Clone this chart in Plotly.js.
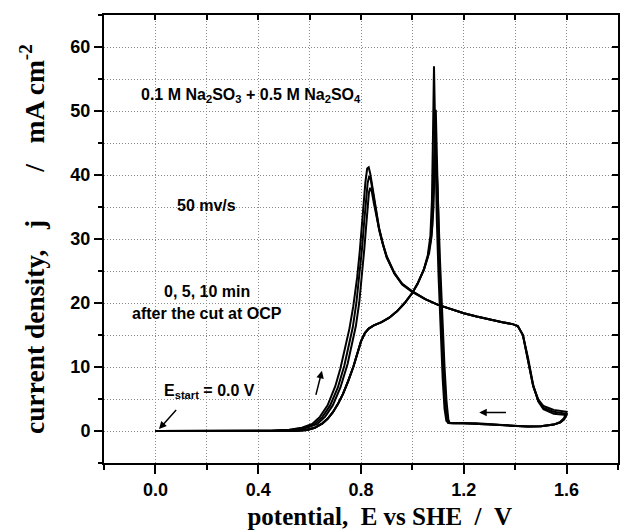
<!DOCTYPE html>
<html>
<head>
<meta charset="utf-8">
<script src="https://cdn.plot.ly/plotly-3.0.1.min.js"></script>
<style>html,body{margin:0;padding:0;background:#fff}#chart{width:620px;height:530px}</style>
</head>
<body>
<div id="chart"></div>
<script>
// ---- data (potential E vs SHE / V, current density / mA cm-2) ----
// cycle A (0 min): forward scan
const potA_fwd = [0.00,0.30,0.45,0.52,0.57,0.61,0.64,0.67,0.70,0.72,0.74,0.755,0.77,0.785,0.795,0.803,0.81,0.817,0.824,0.830,0.836,0.845,0.855,0.87,0.885,0.90,0.93,0.96,1.00,1.05,1.10,1.15,1.20,1.25,1.30,1.35,1.39,1.41,1.43,1.45,1.47,1.49,1.51,1.55,1.60];
const curA_fwd = [0,0,0.05,0.2,0.5,1.1,2.2,4.0,7.0,9.8,13.3,16.0,19.5,24,28,32,35.5,38.8,41.0,41.2,40.2,37.8,35,31.8,29.3,27.3,24.7,23.0,21.8,20.6,19.7,19.0,18.4,17.9,17.4,17.0,16.7,16.4,15.0,11.0,7.0,4.9,3.9,3.3,3.0];
// cycle A: reverse scan
const potA_rev = [1.60,1.59,1.575,1.55,1.50,1.45,1.40,1.35,1.30,1.25,1.20,1.16,1.14,1.132,1.125,1.118,1.11,1.102,1.095,1.089,1.084,1.080,1.076,1.07,1.06,1.045,1.02,1.00,0.97,0.94,0.91,0.88,0.85,0.83,0.815,0.80,0.785,0.77,0.75,0.73,0.71,0.69,0.67,0.65,0.62,0.59,0.55,0.45,0.20];
const curA_rev = [3.0,2.0,1.4,1.0,0.75,0.7,0.8,0.95,1.1,1.2,1.2,1.2,1.25,1.6,3.5,8,15,24,33,45,57,46,36,30.5,27.5,25.3,23.0,21.6,20.0,18.7,17.7,17.0,16.5,16.0,15.3,14.0,12.0,10.0,7.8,5.8,4.2,2.9,1.9,1.2,0.5,0.15,0.05,0,0];

// cycle B (5 min)
const potB_fwd = [0.00,0.30,0.45,0.53,0.58,0.62,0.65,0.68,0.71,0.735,0.755,0.768,0.782,0.795,0.804,0.812,0.819,0.826,0.832,0.838,0.846,0.856,0.87,0.885,0.90,0.93,0.96,1.00,1.05,1.10,1.15,1.20,1.25,1.30,1.35,1.39,1.41,1.43,1.45,1.47,1.49,1.51,1.55,1.60];
const curB_fwd = [0,0,0.04,0.2,0.5,1.1,2.2,4.0,6.8,10.2,13.8,16.2,20,24.5,28.5,32.5,36,38.8,39.8,39.3,37.3,34.7,31.6,29.2,27.2,24.6,23.0,21.8,20.6,19.7,19.0,18.4,17.9,17.4,17.0,16.7,16.4,15.0,11.2,7.0,4.7,3.6,3.0,2.7];
const potB_rev = [1.60,1.59,1.575,1.55,1.50,1.45,1.40,1.35,1.30,1.25,1.20,1.16,1.14,1.136,1.128,1.12,1.112,1.104,1.097,1.091,1.087,1.082,1.075,1.065,1.045,1.02,1.00,0.97,0.94,0.91,0.88,0.85,0.83,0.815,0.80,0.785,0.77,0.75,0.73,0.71,0.69,0.67,0.65,0.62,0.59,0.55,0.45,0.20];
const curB_rev = [2.7,1.9,1.35,1.0,0.75,0.7,0.8,0.95,1.1,1.2,1.2,1.2,1.25,1.7,4,10,18,28,40,50.2,42,35,30.5,27.8,25.3,23.0,21.6,20.0,18.7,17.7,17.0,16.5,16.0,15.3,14.0,12.0,10.0,7.8,5.8,4.2,2.9,1.9,1.2,0.5,0.15,0.05,0,0];

// cycle C (10 min)
const potC_fwd = [0.00,0.30,0.46,0.54,0.59,0.63,0.66,0.69,0.72,0.748,0.768,0.78,0.793,0.805,0.813,0.82,0.826,0.831,0.836,0.842,0.85,0.86,0.873,0.887,0.90,0.93,0.96,1.00,1.05,1.10,1.15,1.20,1.25,1.30,1.35,1.39,1.41,1.43,1.45,1.47,1.49,1.51,1.55,1.60];
const curC_fwd = [0,0,0.04,0.2,0.5,1.1,2.2,4.0,6.8,10.5,14,16.4,20,24.6,28.5,32,35.2,37.3,38.0,37.4,35.6,33.6,31.0,28.9,27.1,24.6,22.9,21.7,20.6,19.7,19.0,18.4,17.9,17.4,17.0,16.7,16.4,15.0,11.4,7.2,4.6,3.4,2.7,2.5];
const potC_rev = [1.60,1.59,1.575,1.55,1.50,1.45,1.40,1.35,1.30,1.25,1.20,1.16,1.145,1.14,1.133,1.125,1.116,1.107,1.098,1.087,1.082,1.077,1.07,1.06,1.045,1.02,1.00,0.97,0.94,0.91,0.88,0.85,0.83,0.815,0.80,0.785,0.77,0.75,0.73,0.71,0.69,0.67,0.65,0.62,0.59,0.55,0.45,0.20];
const curC_rev = [2.5,1.8,1.3,1.0,0.75,0.7,0.8,0.95,1.1,1.2,1.2,1.2,1.25,1.8,4.5,10,18,27,38,47,38,32,29.5,27.2,25.2,23.0,21.6,20.0,18.7,17.7,17.0,16.5,16.0,15.3,14.0,12.0,10.0,7.8,5.8,4.2,2.9,1.9,1.2,0.5,0.15,0.05,0,0];

// tick values
const xTickVals = [0.0,0.4,0.8,1.2,1.6];
const yTickVals = [0,10,20,30,40,50,60];

// ---- traces ----
const lineStyle = {color:'#000', width:2};
function cycle(pf, cf, pr, cr, name){
  return {x: pf.concat(pr), y: cf.concat(cr), type:'scatter', mode:'lines', line: lineStyle, name: name, hoverinfo:'x+y'};
}
const traces = [
  cycle(potA_fwd, curA_fwd, potA_rev, curA_rev, '0 min'),
  cycle(potB_fwd, curB_fwd, potB_rev, curB_rev, '5 min'),
  cycle(potC_fwd, curC_fwd, potC_rev, curC_rev, '10 min'),
  {x:[-0.2], y:[-5], xaxis:'x2', yaxis:'y2', type:'scatter', mode:'markers', marker:{opacity:0}, hoverinfo:'skip', showlegend:false}
];

const tickFont = {family:'Liberation Sans, Arial, sans-serif', size:18, weight:'bold', color:'#000'};
const titleFam = 'Liberation Serif, Times New Roman, serif';
const annFont = {family:'Liberation Sans, Arial, sans-serif', size:16, weight:'bold', color:'#000'};
const gridCol = '#8a8a8a';
const gridDash = '1px,2px';
const NB = '\u00a0';
const sp = n => NB.repeat(n);
const ZW = '\u200b';

const layout = {
  width:620, height:530,
  margin:{l:104, r:2, t:15, b:67},
  paper_bgcolor:'#fff', plot_bgcolor:'#fff',
  showlegend:false,
  xaxis:{
    range:[-0.2,1.8], tickmode:'array', tickvals:xTickVals, tickformat:'.1f',
    ticks:'outside', ticklen:9, tickwidth:2, tickcolor:'#000',
    showline:true, linewidth:2, linecolor:'#000', mirror:true,
    showgrid:true, gridcolor:gridCol, griddash:gridDash, gridwidth:1, zeroline:false,
    minor:{tick0:0, dtick:0.2, ticks:'outside', ticklen:5, tickwidth:2, tickcolor:'#000', showgrid:true, gridcolor:gridCol, griddash:gridDash, gridwidth:1},
    tickfont:tickFont,
    title:{text:ZW+sp(6)+'potential,'+sp(2)+'E vs SHE'+sp(2)+'/'+sp(2)+'V', font:{family:titleFam, size:25, weight:'bold', color:'#000'}, standoff:9}
  },
  yaxis:{
    range:[-5,65], tickmode:'array', tickvals:yTickVals,
    ticks:'outside', ticklen:8, tickwidth:2, tickcolor:'#000',
    showline:true, linewidth:2, linecolor:'#000', mirror:true,
    showgrid:true, gridcolor:gridCol, griddash:gridDash, gridwidth:1, zeroline:false,
    minor:{tick0:0, dtick:5, ticks:'outside', ticklen:4, tickwidth:2, tickcolor:'#000', showgrid:true, gridcolor:gridCol, griddash:gridDash, gridwidth:1},
    tickfont:tickFont,
    title:{text:'current density,'+sp(3)+'j'+sp(7)+'/'+sp(3)+'mA cm<sup>-2</sup>', font:{family:titleFam, size:27.5, weight:'bold', color:'#000'}, standoff:18}
  },
  xaxis2:{overlaying:'x', side:'top', anchor:'y2', range:[-0.2,1.8], tick0:0, dtick:0.2, ticks:'inside', ticklen:5, tickwidth:2, tickcolor:'#000', showticklabels:false, showgrid:false, zeroline:false, showline:false},
  yaxis2:{overlaying:'y', side:'right', anchor:'x2', range:[-5,65], tick0:0, dtick:5, ticks:'inside', ticklen:6, tickwidth:2, tickcolor:'#000', showticklabels:false, showgrid:false, zeroline:false, showline:false},
  annotations:[
    {x:0.372, y:52.5, xref:'x', yref:'y', text:'0.1 M Na<sub>2</sub>SO<sub>3</sub> + 0.5 M Na<sub>2</sub>SO<sub>4</sub>', showarrow:false, font:annFont},
    {x:0.2, y:35.3, xref:'x', yref:'y', text:'50 mv/s', showarrow:false, font:annFont},
    {x:0.2, y:21.8, xref:'x', yref:'y', text:'0, 5, 10 min', showarrow:false, font:annFont},
    {x:0.2, y:18.4, xref:'x', yref:'y', text:'after the cut at OCP', showarrow:false, font:annFont},
    {x:0.211, y:6.2, xref:'x', yref:'y', text:'E<sub>start</sub> = 0.0 V', showarrow:false, font:annFont},
    {x:0.014, y:0.3, ax:0.086, ay:3.5, xref:'x', yref:'y', axref:'x', ayref:'y', text:'', showarrow:true, arrowhead:2, arrowsize:1, arrowwidth:1.5, arrowcolor:'#000'},
    {x:0.648, y:9.4, ax:0.623, ay:5.4, xref:'x', yref:'y', axref:'x', ayref:'y', text:'', showarrow:true, arrowhead:2, arrowsize:1, arrowwidth:1.5, arrowcolor:'#000'},
    {x:1.26, y:2.9, ax:1.37, ay:2.9, xref:'x', yref:'y', axref:'x', ayref:'y', text:'', showarrow:true, arrowhead:2, arrowsize:1, arrowwidth:1.5, arrowcolor:'#000'}
  ]
};

Plotly.newPlot('chart', traces, layout, {displayModeBar:false, staticPlot:true});
</script>
</body>
</html>
